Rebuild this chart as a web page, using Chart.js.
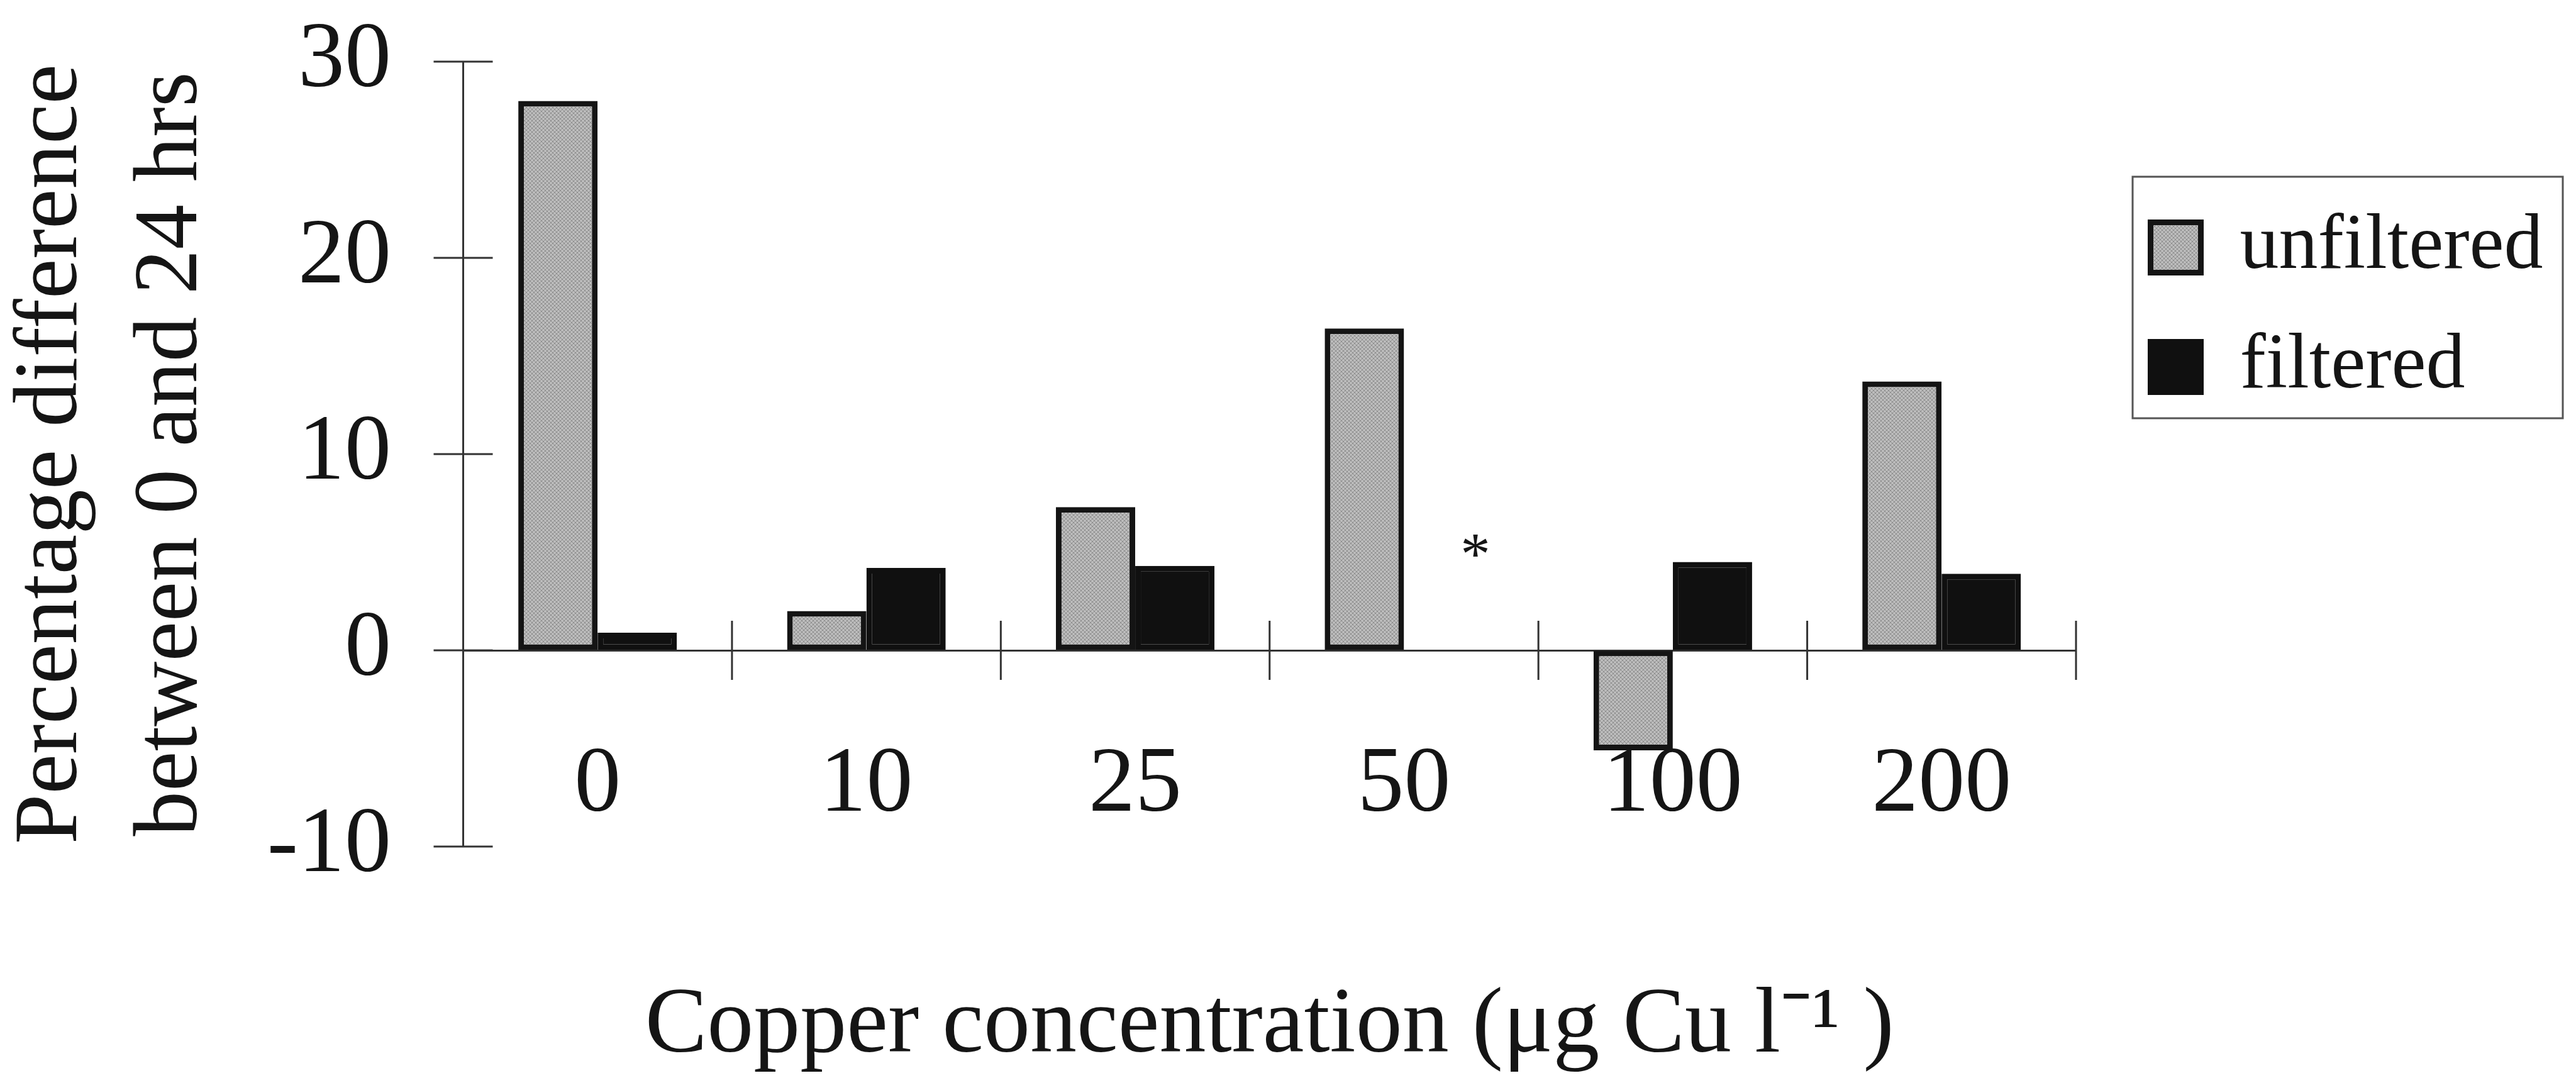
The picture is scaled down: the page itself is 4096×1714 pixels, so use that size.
<!DOCTYPE html>
<html>
<head>
<meta charset="utf-8">
<script src="https://cdn.jsdelivr.net/npm/chart.js@4"></script>
<style>
  html, body { margin: 0; padding: 0; background: #fff; }
  #chart { display: block; }
</style>
</head>
<body>
<canvas id="chart" width="4096" height="1714"></canvas>
<script>
// values
const concentrations = ['0', '10', '25', '50', '100', '200'];
const unfiltered = [28.0, 2.0, 7.3, 16.4, -5.1, 13.7];
const filtered = [0.9, 4.2, 4.3, null, 4.5, 3.9];
const filteredNotes = ['', '', '', '*', '', ''];
const noteValues = [null, null, null, 5.7, null, null];
const yMin = -10, yMax = 30, yStep = 10;

const SERIF = '"Liberation Serif", "Times New Roman", serif';
const INK = '#151515';
const AXIS = '#333';
const TICK_HALF = 47;

const canvas = document.getElementById('chart');
const ctx = canvas.getContext('2d');

// grey crosshatch fill like the printed bars
function hatch() {
  const c = document.createElement('canvas');
  c.width = 6; c.height = 6;
  const g = c.getContext('2d');
  g.fillStyle = '#bdbdbd';
  g.fillRect(0, 0, 6, 6);
  g.fillStyle = '#8e8e8e';
  for (let i = 0; i < 6; i++) {
    g.fillRect(i, i, 1, 1);
    g.fillRect(5 - i, i, 1, 1);
  }
  return ctx.createPattern(c, 'repeat');
}

// tick marks that cross the axis lines
const crossTicks = {
  id: 'crossTicks',
  afterDraw(chart) {
    const x = chart.scales.x, y = chart.scales.y, c = chart.ctx;
    const axisX = y.right, zeroY = y.getPixelForValue(0);
    c.save();
    c.strokeStyle = AXIS;
    c.lineWidth = 3;
    c.beginPath();
    y.ticks.forEach(t => {
      const py = y.getPixelForValue(t.value);
      c.moveTo(axisX - TICK_HALF, py);
      c.lineTo(axisX + TICK_HALF, py);
    });
    for (let i = 0; i <= concentrations.length; i++) {
      const px = x.getPixelForValue(i - 0.5);
      c.moveTo(px, zeroY - TICK_HALF);
      c.lineTo(px, zeroY + TICK_HALF);
    }
    c.stroke();
    c.restore();
  }
};

// the asterisk where the filtered value is missing
const notes = {
  id: 'notes',
  afterDatasetsDraw(chart) {
    const meta = chart.getDatasetMeta(1), y = chart.scales.y, c = chart.ctx;
    c.save();
    c.font = '95px ' + SERIF;
    c.fillStyle = INK;
    c.textAlign = 'center';
    c.textBaseline = 'middle';
    filteredNotes.forEach((t, i) => {
      if (!t) return;
      const bar = meta.data[i];
      c.fillText(t, bar.x + bar.width * 0.4, y.getPixelForValue(noteValues[i]) + 32);
    });
    c.restore();
  }
};

// frame round the legend
const legendFrame = {
  id: 'legendFrame',
  afterDraw(chart) {
    const lg = chart.legend, c = chart.ctx;
    c.save();
    c.strokeStyle = '#555';
    c.lineWidth = 3;
    c.strokeRect(lg.left + 37.5, lg.top + 183, 684, 384);
    c.restore();
  }
};

new Chart(ctx, {
  type: 'bar',
  data: {
    labels: concentrations,
    datasets: [
      {
        label: 'unfiltered',
        data: unfiltered,
        backgroundColor: hatch(),
        borderColor: '#141414',
        borderWidth: 9,
        borderSkipped: false
      },
      {
        label: 'filtered',
        data: filtered,
        backgroundColor: '#101010',
        borderColor: '#101010',
        borderWidth: 9,
        borderSkipped: false
      }
    ]
  },
  options: {
    responsive: false,
    animation: false,
    devicePixelRatio: 1,
    layout: { padding: { top: 98, bottom: 368, left: 0, right: 42.5 } },
    datasets: { bar: { barPercentage: 1, categoryPercentage: 0.59 } },
    scales: {
      x: {
        position: { y: 0 },
        // invisible tick length keeps the labels clear of the axis
        grid: { display: true, drawOnChartArea: false, drawTicks: true, tickLength: 127, tickColor: 'rgba(0,0,0,0)' },
        border: { display: true, color: AXIS, width: 3 },
        ticks: {
          font: { family: SERIF, size: 148 },
          color: INK,
          padding: 0,
          maxRotation: 0,
          autoSkip: false
        },
        title: {
          display: true,
          text: 'Copper concentration (\u03bcg Cu l\u207b\u00b9 )',
          font: { family: SERIF, size: 148 },
          color: INK,
          padding: 0
        },
        afterFit(s) { s.height = 688; }
      },
      y: {
        min: yMin,
        max: yMax,
        grid: { display: true, drawOnChartArea: false, drawTicks: true, tickLength: 114.5, tickColor: 'rgba(0,0,0,0)' },
        border: { display: true, color: AXIS, width: 3 },
        ticks: {
          stepSize: yStep,
          font: { family: SERIF, size: 148 },
          color: INK,
          padding: 0
        },
        title: {
          display: true,
          text: ['Percentage difference', 'between 0 and 24 hrs'],
          font: { family: SERIF, size: 143, lineHeight: 1.336 },
          color: INK,
          padding: { top: -12.5, bottom: 0 }
        },
        afterFit(s) { s.width = 736.5; }
      },
      spacer: {
        type: 'linear',
        position: 'right',
        display: true,
        grid: { display: false },
        border: { display: false },
        ticks: { display: false },
        afterFit(s) { s.width = 52.5; }
      }
    },
    plugins: {
      legend: {
        position: 'right',
        align: 'start',
        maxWidth: 900,
        title: { display: true, text: '', font: { size: 10, lineHeight: 1 }, padding: { top: 157.5, bottom: 0 } },
        labels: {
          boxWidth: 80,
          boxHeight: 80,
          padding: 66,
          color: INK,
          font: { family: SERIF, size: 124 }
        }
      },
      tooltip: { enabled: false }
    }
  },
  plugins: [crossTicks, notes, legendFrame]
});
</script>
</body>
</html>
